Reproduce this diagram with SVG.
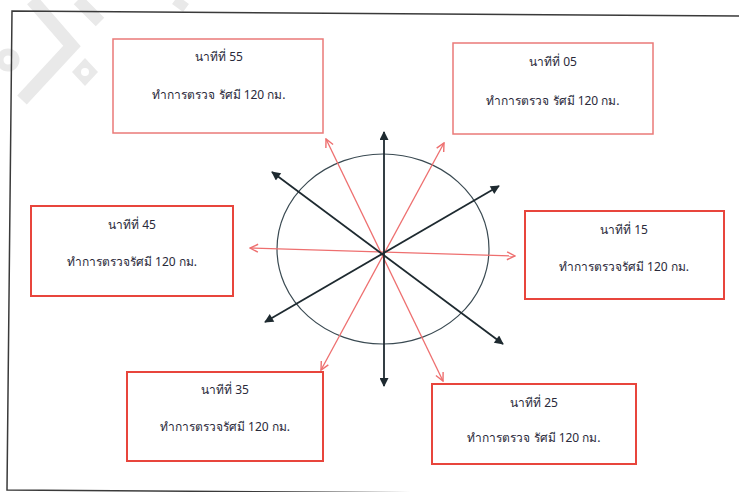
<svg xmlns="http://www.w3.org/2000/svg" width="739" height="492" viewBox="0 0 739 492">
<style>
.box{fill:#fff;stroke:#e8453c;stroke-width:2}
.box.lt{stroke:#ea7a78;stroke-width:1.5}
.t{font-family:"Noto Sans","DejaVu Sans",Tahoma,sans-serif;font-size:12px;fill:#2a2a3a;text-anchor:middle}
.bk{stroke:#1e2a30;stroke-width:1.8;fill:none;marker-start:url(#ab);marker-end:url(#ab)}
.rd{stroke:#ee6f6f;stroke-width:1.3;fill:none;marker-start:url(#ar);marker-end:url(#ar)}
.wm{stroke:#e9e9e9;fill:none;stroke-linecap:butt}
</style>
<defs>
<marker id="ab" viewBox="0 0 10 10" refX="9" refY="5" markerWidth="11" markerHeight="9" markerUnits="userSpaceOnUse" orient="auto-start-reverse"><path d="M0,0 L10,5 L0,10 z" fill="#1e2a30"/></marker>
<marker id="ar" viewBox="0 0 10 10" refX="9" refY="5" markerWidth="10" markerHeight="10" markerUnits="userSpaceOnUse" orient="auto-start-reverse"><path d="M1,1 L9,5 L1,9" fill="none" stroke="#ee6f6f" stroke-width="1.4"/></marker>
</defs>
<rect width="739" height="492" fill="#fff"/>
<g id="watermark">
<polyline class="wm" stroke-width="13" points="32,0 72,46 22,100"/>
<polyline class="wm" stroke-width="12" points="78,0 100,22"/>
<circle cx="8" cy="60" r="8" class="wm" stroke-width="7"/>
<polygon points="85,58 98,72 85,86 72,72" fill="#e9e9e9"/>
<circle cx="85" cy="72" r="4" fill="#fff"/>
<polyline class="wm" stroke-width="10" points="175,0 186,8"/>
</g>
<polygon id="frame" points="12,11 745,16 740,495 7,490" fill="none" stroke="#3a3a3a" stroke-width="1.5"/>
<ellipse id="circle" cx="383" cy="249" rx="106" ry="95" fill="none" stroke="#3a4a52" stroke-width="1.2"/>
<g id="connectors">
<line class="rd" x1="250" y1="248" x2="515" y2="256"/>
<line class="rd" x1="326" y1="139" x2="443" y2="381"/>
<line class="rd" x1="444" y1="143" x2="321" y2="370"/>
<line class="bk" x1="384" y1="132" x2="384" y2="386"/>
<line class="bk" x1="272" y1="172" x2="503" y2="344"/>
<line class="bk" x1="265" y1="322" x2="499" y2="186"/>
</g>
<g id="n55"><rect class="box lt" x="113" y="39" width="210" height="94"/><text class="t" x="219" y="61">นาทีที่ 55</text><text class="t" x="219" y="99">ทำการตรวจ รัศมี 120 กม.</text></g>
<g id="n05"><rect class="box lt" x="453" y="43" width="200" height="91"/><text class="t" x="553" y="66">นาทีที่ 05</text><text class="t" x="553" y="105">ทำการตรวจ รัศมี 120 กม.</text></g>
<g id="n45"><rect class="box" x="31" y="206" width="202" height="90"/><text class="t" x="132" y="229">นาทีที่ 45</text><text class="t" x="132" y="266">ทำการตรวจรัศมี 120 กม.</text></g>
<g id="n15"><rect class="box" x="525" y="211" width="199" height="88"/><text class="t" x="624" y="234">นาทีที่ 15</text><text class="t" x="624" y="271">ทำการตรวจรัศมี 120 กม.</text></g>
<g id="n35"><rect class="box" x="127" y="372" width="196" height="89"/><text class="t" x="225" y="394">นาทีที่ 35</text><text class="t" x="225" y="431">ทำการตรวจรัศมี 120 กม.</text></g>
<g id="n25"><rect class="box" x="432" y="384" width="204" height="80"/><text class="t" x="534" y="407">นาทีที่ 25</text><text class="t" x="534" y="442">ทำการตรวจ รัศมี 120 กม.</text></g>
</svg>
